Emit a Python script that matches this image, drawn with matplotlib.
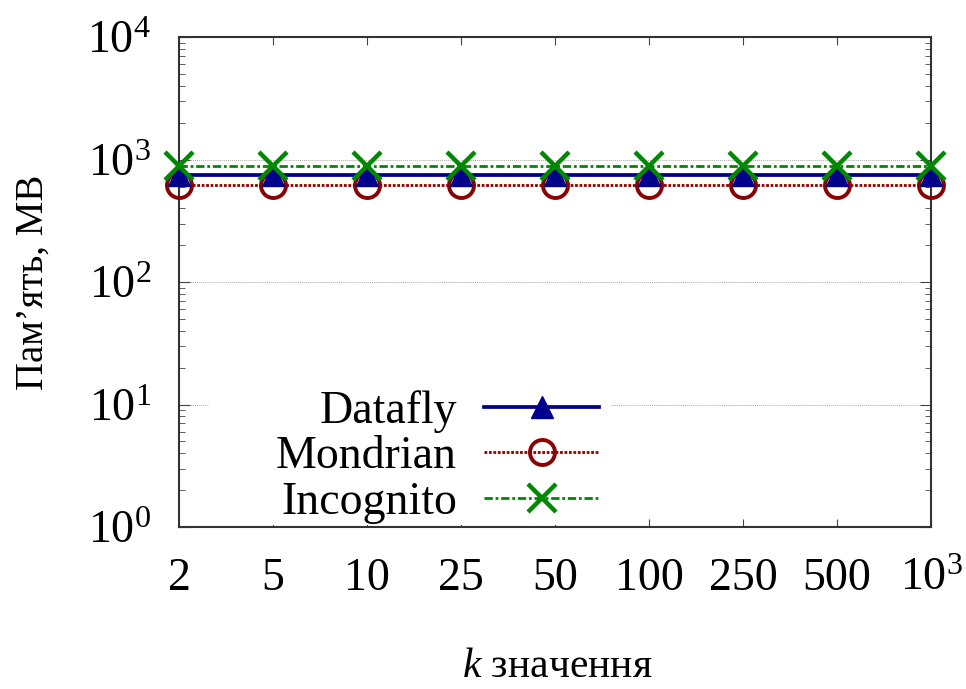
import numpy as np
import matplotlib
matplotlib.use("Agg")
import matplotlib.pyplot as plt
from matplotlib.ticker import LogLocator, LogFormatterMathtext, NullFormatter, FixedLocator
from matplotlib.patches import Rectangle

plt.rcParams['font.family'] = ['Liberation Serif', 'DejaVu Serif']
plt.rcParams['mathtext.fontset'] = 'custom'
plt.rcParams['mathtext.rm'] = 'Liberation Serif'
plt.rcParams['mathtext.it'] = 'Liberation Serif:italic'

# дані
k_labels = ['2', '5', '10', '25', '50', '100', '250', '500', r'$10^3$']
datafly = [750, 750, 750, 750, 750, 750, 750, 750, 750]
mondrian = [620, 620, 620, 620, 620, 620, 620, 620, 620]
incognito = [885, 885, 885, 885, 885, 885, 885, 885, 885]

x = np.arange(len(k_labels))

fig = plt.figure(figsize=(9.66, 6.89), dpi=100)
ax = fig.add_axes([0.1853, 0.2351, 0.7785, 0.7112])

l1, = ax.plot(x, datafly, color='#00008b', lw=2.7, marker='^', ms=16,
              label='Datafly', clip_on=False, zorder=4)
l2, = ax.plot(x, mondrian, color='#8b0000', lw=2, ls=(0, (1, 0.6)),
              marker='o', ms=18, mfc='none', mew=2.8,
              label='Mondrian', clip_on=False, zorder=3)
l3, = ax.plot(x, incognito, color='#008800', lw=2, ls=(0, (3, 1, 1, 1)),
              marker='x', ms=20, mew=3.2,
              label='Incognito', clip_on=False, zorder=5)

ax.set_yscale('log')
ax.set_ylim(1, 1e4)
ax.set_xlim(0, 8)

ax.xaxis.set_major_locator(FixedLocator(x))
ax.set_xticklabels(k_labels)
ax.yaxis.set_major_locator(LogLocator(base=10, numticks=10))
ax.yaxis.set_minor_locator(LogLocator(base=10, subs=np.arange(2, 10), numticks=20))
ax.yaxis.set_major_formatter(LogFormatterMathtext())
ax.yaxis.set_minor_formatter(NullFormatter())

ax.tick_params(axis='both', which='both', direction='in', top=True, right=True,
               labelsize=33, color='#444444')
ax.tick_params(axis='x', which='major', length=6, pad=22)
ax.tick_params(axis='y', which='major', length=8, pad=20)
ax.tick_params(axis='y', which='minor', length=4)

for s in ax.spines.values():
    s.set_linewidth(1.5)
    s.set_color('#333333')

ax.yaxis.grid(True, which='major', color='#aaaaaa', lw=0.7, ls=(0, (1, 1)))
ax.set_axisbelow(True)

ax.set_ylabel('Пам’ять, MB', fontsize=28)
ax.yaxis.set_label_coords(-0.17, 0.5)
ax.set_xlabel(r'$k$ значення', fontsize=30)
ax.xaxis.set_label_coords(0.503, -0.245)

# біле тло під легендою
ax.add_patch(Rectangle((0.04, 0.005), 0.535, 0.29, transform=ax.transAxes,
                       facecolor='white', edgecolor='none', zorder=1.5))

leg = ax.legend(handles=[l1, l2, l3], loc='lower right', bbox_to_anchor=(0.589, -0.041),
                markerfirst=False, frameon=False, fontsize=33, handlelength=2.5,
                handletextpad=0.6, labelspacing=0.07, borderpad=0.0)
leg.set_zorder(6)

fig.savefig('out.png', dpi=100)
